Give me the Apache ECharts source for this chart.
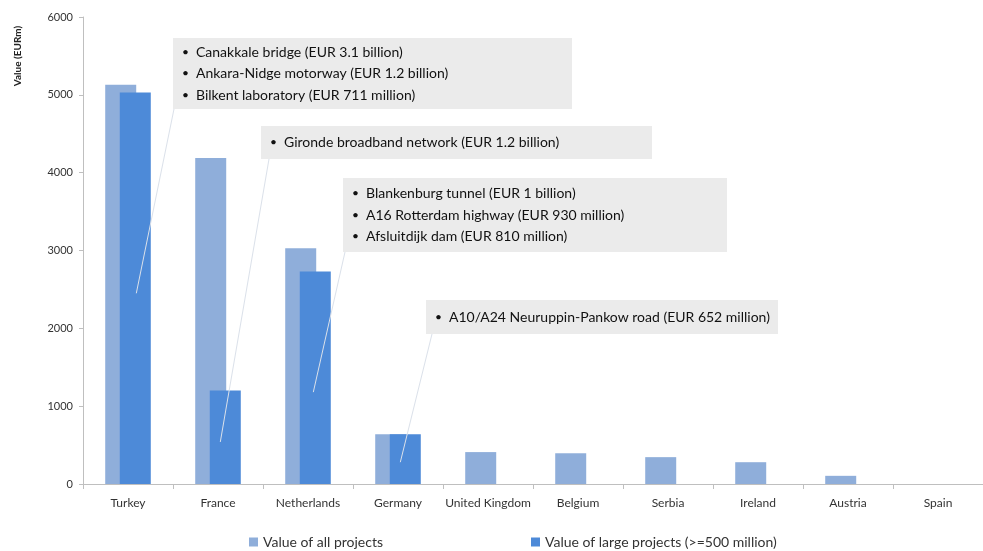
<!DOCTYPE html>
<html>
<head>
<meta charset="utf-8">
<script src="https://cdn.jsdelivr.net/npm/echarts@6/dist/echarts.min.js"></script>
<style>html,body{margin:0;padding:0;background:#fff}#c{width:983px;height:551px}</style>
</head>
<body>
<div id="c"></div>
<script>
const categories = ['Turkey','France','Netherlands','Germany','United Kingdom','Belgium','Serbia','Ireland','Austria','Spain'];
const allProjects = [5130,4190,3030,640,410,395,345,280,105,0];
const largeProjects = [5030,1200,2730,640,0,0,0,0,0,0];
const yTicks = {min:0, max:6000, interval:1000};
const seriesNames = ['Value of all projects','Value of large projects (>=500 million)'];
const callouts = [
  {lines:['Canakkale bridge (EUR 3.1 billion)','Ankara-Nidge motorway (EUR 1.2 billion)','Bilkent laboratory (EUR 711 million)'], cat:'Turkey', val:2450},
  {lines:['Gironde broadband network (EUR 1.2 billion)'], cat:'France', val:540},
  {lines:['Blankenburg tunnel (EUR 1 billion)','A16 Rotterdam highway (EUR 930 million)','Afsluitdijk dam (EUR 810 million)'], cat:'Netherlands', val:1180},
  {lines:['A10/A24 Neuruppin-Pankow road (EUR 652 million)'], cat:'Germany', val:280}
];
const boxes = [
  {x:173,y:38,w:399,h:71, start:[174,109], dx:1},
  {x:261,y:126,w:391,h:33, start:[269,159], dx:-5},
  {x:343,y:178,w:384,h:74, start:[345,252], dx:-2},
  {x:426,y:300,w:352,h:34, start:[432,334], dx:-5}
];
const FONT = 'Lato, "Open Sans", sans-serif';
const chart = echarts.init(document.getElementById('c'));
const option = {
  animation:false,
  backgroundColor:'#fff',
  grid:{left:83, top:17, bottom:67, width:913, containLabel:false},
  legend:[
    {left:249, top:535, padding:0, itemWidth:9, itemHeight:9, icon:'rect', data:[seriesNames[0]], textStyle:{fontSize:14, color:'#333', fontFamily:FONT}},
    {left:531, top:535, padding:0, itemWidth:9, itemHeight:9, icon:'rect', data:[seriesNames[1]], textStyle:{fontSize:14, color:'#333', fontFamily:FONT}}
  ],
  xAxis:{type:'category', data:categories,
    axisLine:{lineStyle:{color:'#bfbfbf'}},
    axisTick:{show:true, length:5, lineStyle:{color:'#bfbfbf'}},
    axisLabel:{fontSize:12, color:'#333', margin:13, fontFamily:FONT, interval:0}},
  yAxis:{type:'value', min:yTicks.min, max:yTicks.max, interval:yTicks.interval,
    axisLine:{show:true, lineStyle:{color:'#bfbfbf'}},
    axisTick:{show:true, length:4, lineStyle:{color:'#bfbfbf'}},
    splitLine:{show:false},
    axisLabel:{fontSize:11, color:'#333', margin:10, fontFamily:FONT, formatter:v=>String(v)}},
  series:[
    {name:seriesNames[0], type:'bar', data:allProjects, barWidth:31, barGap:'-53%', itemStyle:{color:'#8FAEDA'}},
    {name:seriesNames[1], type:'bar', data:largeProjects, barWidth:31, itemStyle:{color:'#4D8AD8'}}
  ]
};
chart.setOption(option);

const graphics = [{type:'text', x:18, y:56, rotation:Math.PI/2,
  style:{text:'Value (EURm)', font:'bold 10px '+FONT, fill:'#222', textAlign:'center', textVerticalAlign:'middle'}}];
callouts.forEach((c,i)=>{
  const b = boxes[i];
  const idx = categories.indexOf(c.cat);
  const p = chart.convertToPixel({xAxisIndex:0, yAxisIndex:0}, [idx, c.val]);
  const barOffset = 7.3;
  graphics.push({type:'line', z:50, shape:{x1:b.start[0], y1:b.start[1], x2:p[0]+barOffset+b.dx, y2:p[1]},
    style:{stroke:'#dbe1ea', lineWidth:1}});
  graphics.push({type:'rect', z:60, shape:{x:b.x, y:b.y, width:b.w, height:b.h}, style:{fill:'#EBEBEB'}});
  const lh = 21.5;
  const n = c.lines.length;
  const cy = b.y + b.h/2;
  c.lines.forEach((t,j)=>{
    const y = cy + (j-(n-1)/2)*lh;
    graphics.push({type:'text', z:70, x:b.x+9, y:y, style:{text:'•', font:'12px '+FONT, fill:'#111', textVerticalAlign:'middle'}});
    graphics.push({type:'text', z:70, x:b.x+23, y:y, style:{text:t, font:'14px '+FONT, fill:'#111', textVerticalAlign:'middle'}});
  });
});
chart.setOption({graphic:graphics});
</script>
</body>
</html>
